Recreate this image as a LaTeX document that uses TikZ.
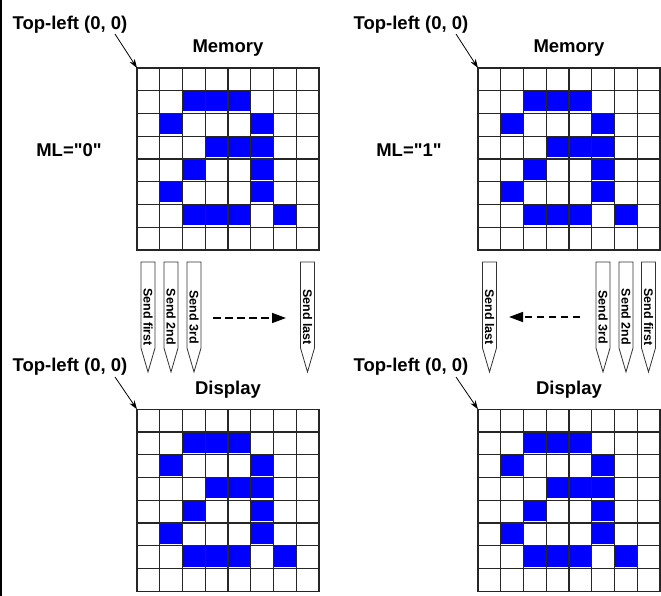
\documentclass[tikz,border=0pt]{standalone}
\usepackage{fontspec}
\setmainfont{Liberation Sans}
\newfontfamily\lblfont{Liberation Sans}
\usetikzlibrary{arrows.meta}
\definecolor{pixblue}{RGB}{0,0,255}
\newcommand\lcdgrid[3]{%
  \foreach \r/\c in {1/2,1/3,1/4,2/1,2/5,3/3,3/4,3/5,4/2,4/5,5/1,5/5,6/2,6/3,6/4,6/6}
    \fill[pixblue] ({#2+\c*22.75},{#3+\r*22.75}) rectangle ({#2+(\c+1)*22.75},{#3+(\r+1)*22.75-2});
  \foreach \i in {0,...,8} {
    \draw[gridline] ({#2+\i*22.75},#3) -- ({#2+\i*22.75},{#3+182});
    \draw[gridline] (#2,{#3+\i*22.75}) -- ({#2+182},{#3+\i*22.75});
  }
  \node[gridbox] (#1) at ({#2+91},{#3+91}) {};
}
\newcommand\mypencil[3]{%
  \draw[pencilline] ({#2-7},262) -- ({#2+7},262) -- ({#2+7},348) -- (#2,372) -- ({#2-7},348) -- cycle;
  \node[penciltext] (#1) at (#2,317) {#3};
}
\begin{document}
\begin{tikzpicture}[x=1pt,y=-1pt,
  gridline/.style={line width=1.15pt, draw=black!85, line cap=rect},
  gridbox/.style={minimum size=182pt, inner sep=0pt, outer sep=0pt},
  lbl/.style={font=\lblfont\fontsize{18.5}{22}\selectfont\bfseries, inner sep=0pt, anchor=base},
  penciltext/.style={font=\lblfont\fontsize{12.5}{14}\selectfont\bfseries, rotate=-90, inner sep=0pt},
  pencilline/.style={draw=black!80, line width=0.8pt, fill=white, line join=miter},
  corner/.style={-{Stealth[length=9pt,width=6pt]}, line width=0.8pt},
  dasharrow/.style={-{Triangle[length=14pt,width=10pt]}, line width=1.5pt, dash pattern=on 7.5pt off 4.5pt}
]
\useasboundingbox (0,0) rectangle (661,596);
\fill[black] (0,0) rectangle (2,596);

% grids
\lcdgrid{gmem0}{137}{68}
\lcdgrid{gmem1}{478}{68}
\lcdgrid{gdisp0}{137}{409.3}
\lcdgrid{gdisp1}{478}{409.3}

% labels
\node[lbl] (tl1) at (70,30) {Top-left (0, 0)};
\node[lbl] (tl2) at (411,30) {Top-left (0, 0)};
\node[lbl] (tl3) at (70,371) {Top-left (0, 0)};
\node[lbl] (tl4) at (411,371) {Top-left (0, 0)};
\node[lbl] (mem0) at (228,53) {Memory};
\node[lbl] (mem1) at (569,53) {Memory};
\node[lbl] (disp0) at (228,394.3) {Display};
\node[lbl] (disp1) at (569,394.3) {Display};
\node[lbl] (ml0) at (69,156.5) {ML="0"};
\node[lbl] (ml1) at (409,156.5) {ML="1"};

% corner arrows
\coordinate (c1) at (115,34);
\coordinate (c2) at (456,34);
\coordinate (c3) at (115,377);
\coordinate (c4) at (456,377);
\draw[corner] (c1) -- (gmem0.north west);
\draw[corner] (c2) -- (gmem1.north west);
\draw[corner] (c3) -- (gdisp0.north west);
\draw[corner] (c4) -- (gdisp1.north west);

% pencils
\mypencil{pa1}{148}{Send first}
\mypencil{pa2}{171}{Send 2nd}
\mypencil{pa3}{194}{Send 3rd}
\mypencil{pa4}{307.5}{Send last}
\mypencil{pb4}{489.5}{Send last}
\mypencil{pb3}{603}{Send 3rd}
\mypencil{pb2}{626}{Send 2nd}
\mypencil{pb1}{648.5}{Send first}

% dashed arrows
\coordinate (da1) at (213,318);
\coordinate (da2) at (286,318);
\coordinate (db1) at (580,317);
\coordinate (db2) at (509,317);
\draw[dasharrow] (da1) -- (da2);
\draw[dasharrow] (db1) -- (db2);
\end{tikzpicture}
\end{document}
